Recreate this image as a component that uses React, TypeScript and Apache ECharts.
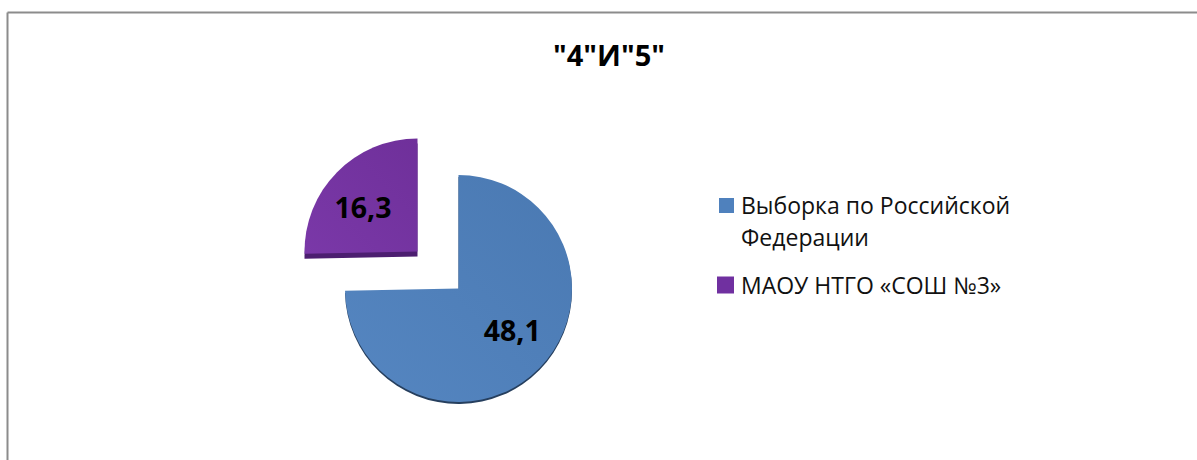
import React, { useEffect, useRef } from "react";
import * as echarts from "echarts";

const titleText = '"4"И"5"';
const categories = ["Выборка по Российской\nФедерации", "МАОУ НТГО «СОШ №3»"];
const values = [48.1, 16.3];
const decimalComma = (v: number) => v.toFixed(1).replace(".", ",");

const BLUE = "#4F81BD";
const PURPLE = "#7030A0";
const HIDDEN = "rgba(0,0,0,0)";
const FONT = '"Open Sans", sans-serif';

const grad = (a: string, b: string) => ({
  type: "linear", x: 0, y: 1, x2: 1, y2: 0,
  colorStops: [{ offset: 0, color: a }, { offset: 1, color: b }],
});

const facePie = (idx: number, center: number[], radius: number, drop: number, face: any, depth: string, layout: any) => {
  const mk = (isDepth: boolean) => ({
    type: "pie",
    silent: true,
    radius,
    center: isDepth ? [center[0], center[1] + drop] : center,
    startAngle: 90,
    clockwise: true,
    z: isDepth ? 1 : 2,
    emphasis: { disabled: true },
    labelLine: { show: false },
    labelLayout: isDepth ? undefined : layout,
    data: values.map((v, i) => ({
      name: isDepth ? `d${idx}${i}` : categories[i],
      value: v,
      itemStyle: { color: i === idx ? (isDepth ? depth : face) : HIDDEN },
      label: {
        show: !isDepth && i === idx,
        position: "inside",
        formatter: () => decimalComma(v),
        fontFamily: FONT,
        fontWeight: "bold",
        fontSize: 28.5,
        color: "#000",
      },
    })),
  });
  return [mk(true), mk(false)];
};

const legendText = { fontFamily: FONT, fontSize: 23, color: "#111", lineHeight: 32, padding: [0, 0, 0, 2] };

export default function App() {
  const ref = useRef<HTMLDivElement>(null);
  useEffect(() => {
    document.body.style.margin = "0";
    const chart = echarts.init(ref.current!, null, { renderer: "svg" });
    chart.setOption({
      animation: false,
      backgroundColor: "#fff",
      title: {
        text: titleText,
        left: 609,
        top: 40,
        padding: 0,
        textAlign: "center",
        textStyle: { fontFamily: FONT, fontWeight: "bold", fontSize: 29, color: "#000" },
      },
      legend: [
        {
          left: 719, top: 189, padding: 0, orient: "vertical", itemWidth: 15, itemHeight: 46, itemGap: 0,
          icon: "path://M0 0H15V15H0Z M0 45.9H0.1V46H0Z",
          selectedMode: false, textStyle: legendText,
          data: [{ name: categories[0], itemStyle: { color: BLUE } }],
        },
        {
          left: 717, top: 269, padding: 0, orient: "vertical", itemWidth: 17, itemHeight: 17, itemGap: 0,
          icon: "rect", selectedMode: false, textStyle: legendText,
          data: [{ name: categories[1], itemStyle: { color: PURPLE } }],
        },
      ],
      series: [
        ...facePie(0, [458.5, 288.5], 113.5, 2, grad("#5586C1", "#4A79B2"), "#263F5E", { dx: 11, dy: 0 }),
        ...facePie(1, [417.5, 251.5], 113, 5, grad("#7A38A8", "#6F309A"), "#4C1E70", { dx: -12, dy: -3 }),
      ],
      graphic: [
        { type: "line", shape: { x1: 7.5, y1: 12.5, x2: 1197, y2: 12.5 }, style: { stroke: "#8C8C8C", lineWidth: 2 } },
        { type: "line", shape: { x1: 7.5, y1: 12.5, x2: 7.5, y2: 460 }, style: { stroke: "#8C8C8C", lineWidth: 2 } },
      ],
    });
    return () => chart.dispose();
  }, []);
  return <div ref={ref} style={{ width: 1197, height: 460 }} />;
}
